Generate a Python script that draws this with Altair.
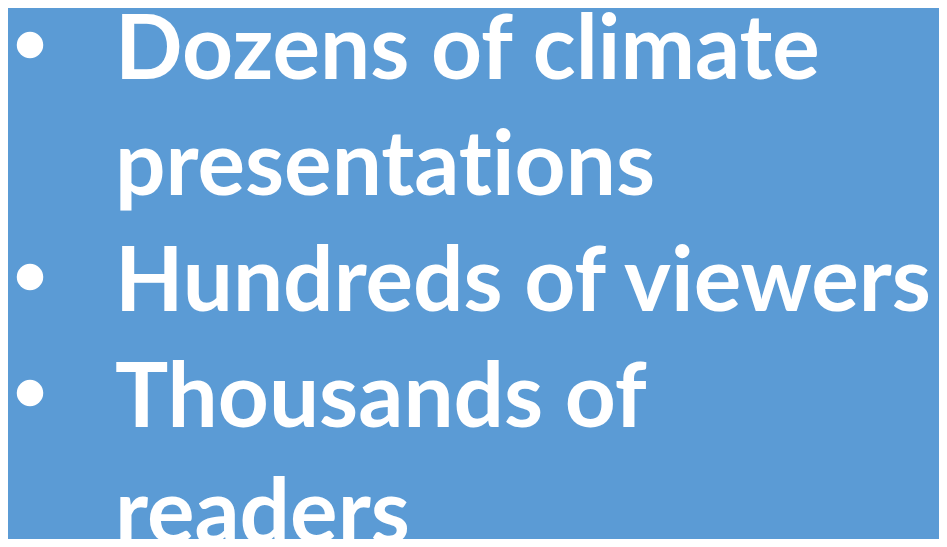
import altair as alt
import pandas as pd

# Slide text, one entry per visual line (a zero-width non-joiner keeps "ti" from becoming a ligature)
lines = ["Dozens of climate", "presentat\u200cions", "Hundreds of viewers", "Thousands of", "readers"]
line_index = [0, 1, 2, 3, 4]
has_bullet = [True, False, True, True, False]

text_df = pd.DataFrame({"line": line_index, "label": lines, "col": [1] * len(lines)})
bullet_df = pd.DataFrame({
    "line": [i for i, b in zip(line_index, has_bullet) if b],
    "col": [0] * sum(has_bullet),
})

BG = "#5B9BD5"
FONT = "Lato"

x_scale = alt.Scale(domain=[0, 1], range=[22, 107])
y_scale = alt.Scale(domain=[0, 4], range=[68, 532])

text = alt.Chart(text_df).mark_text(
    align="left", baseline="alphabetic", font=FONT, fontWeight="bold",
    fontSize=89, color="white",
).encode(
    x=alt.X("col:Q", scale=x_scale, axis=None),
    y=alt.Y("line:Q", scale=y_scale, axis=None),
    text="label:N",
)

bullets = alt.Chart(bullet_df).mark_circle(
    color="white", opacity=1, size=700, yOffset=-34,
).encode(
    x=alt.X("col:Q", scale=x_scale, axis=None),
    y=alt.Y("line:Q", scale=y_scale, axis=None),
)

chart = alt.layer(bullets, text).properties(
    width=931, height=531, padding=0,
    autosize=alt.AutoSizeParams(type="fit", contains="padding"),
).configure(background=BG).configure_view(stroke=None)

chart.save("out.html", embed_options={"renderer": "svg", "actions": False})
